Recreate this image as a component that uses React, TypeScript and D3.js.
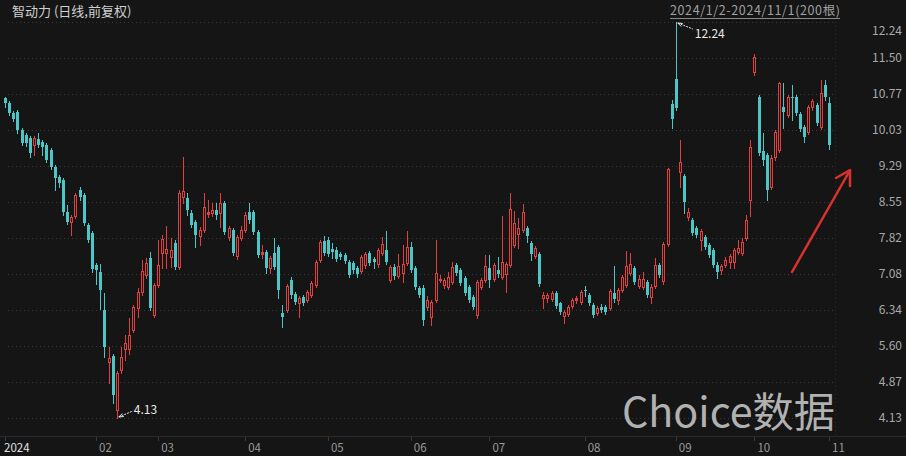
import React from "react";
import { scaleLinear, max, min } from "d3";

// daily OHLC, 2024/1/2 - 2024/11/1 (200 bars)
const opens = [
  10.68, 10.58, 10.38, 10.40, 10.03, 9.92, 9.86, 9.72, 9.84, 9.78, 9.72, 9.62, 9.27, 9.06, 9.00, 8.35, 8.14, 8.27, 8.80, 8.70, 8.08, 7.92,
  7.26, 7.12, 6.34, 5.28, 5.40, 4.29, 5.11, 5.54, 5.54, 5.93, 6.38, 6.71, 7.06, 7.41, 6.24,
  6.85, 7.51, 7.51, 7.43, 7.71, 7.22, 8.66, 8.63, 8.33, 8.14, 7.86, 7.98, 8.31, 8.33, 8.39, 8.33, 8.53, 7.84, 7.98, 7.45, 7.82,
  7.98, 8.35, 8.35, 7.94, 7.49, 7.53, 7.20, 7.51, 7.63, 6.28, 6.34, 6.96, 6.67, 6.48, 6.61, 6.55, 6.65, 6.85, 7.37, 7.75,
  7.77, 7.59, 7.57, 7.49, 7.47, 7.32, 7.30, 7.20, 7.14, 7.26, 7.51, 7.39, 7.28, 7.51, 7.57, 6.96, 7.22, 7.04, 7.10, 7.30,
  7.63, 7.20, 6.79, 6.79, 6.40, 6.20, 6.55, 6.96, 6.85, 6.81, 6.91, 7.26, 7.16, 7.00, 6.81, 6.61, 6.24, 6.81, 6.96,
  7.20, 6.98, 7.16, 7.02, 7.08, 7.26, 7.67, 7.90, 7.98, 8.02, 7.71, 7.45, 7.49, 6.59, 6.59, 6.57, 6.69, 6.48, 6.22, 6.26, 6.42, 6.55, 6.51,
  6.75, 6.65, 6.44, 6.28, 6.40, 6.40, 6.38, 6.69, 6.55, 6.75, 6.85, 7.10, 7.20, 6.83, 6.81, 6.91, 6.61, 6.83, 7.26, 6.94, 7.69, 10.56,
  11.07, 9.17, 9.09, 8.25, 8.18, 8.02, 7.77, 7.84, 7.67, 7.57, 7.26, 7.16, 7.26, 7.32, 7.32, 7.53, 7.51, 7.82, 8.59,
  11.21, 10.70, 9.60, 9.51, 8.86, 9.47, 9.62, 10.50, 10.33, 10.70, 10.70, 10.35, 10.09, 9.99, 10.50, 10.54, 10.09, 10.95,
  10.58,
];
const highs = [
  10.70, 10.62, 10.42, 10.44, 10.07, 9.97, 9.90, 9.90, 9.97, 9.82, 9.76, 9.66, 9.31, 9.11, 9.04, 8.49, 8.29, 8.74, 8.86, 8.74, 8.12, 7.96,
  7.30, 7.28, 6.69, 5.58, 5.45, 5.09, 5.58, 5.83, 6.18, 6.44, 6.79, 7.37, 7.41, 7.53, 6.89,
  7.77, 7.88, 8.06, 7.82, 7.77, 8.80, 9.47, 8.74, 8.39, 8.18, 8.04, 8.74, 8.59, 8.53, 8.53, 8.74, 8.57, 8.06, 8.02, 7.88, 8.06,
  8.35, 8.53, 8.39, 7.98, 7.67, 7.57, 7.45, 7.82, 7.67, 6.44, 6.87, 7.02, 6.71, 6.63, 6.65, 6.75, 6.94, 7.37, 7.77, 7.86,
  7.84, 7.71, 7.63, 7.53, 7.51, 7.37, 7.34, 7.24, 7.47, 7.53, 7.55, 7.43, 7.61, 7.84, 7.96, 7.26, 7.28, 7.49, 7.67, 7.96,
  7.73, 7.24, 6.83, 6.85, 6.63, 6.55, 7.77, 7.06, 7.00, 7.12, 7.32, 7.30, 7.20, 7.04, 6.85, 6.65, 6.96, 7.00, 7.47,
  7.47, 7.30, 7.43, 8.27, 7.32, 8.74, 8.37, 8.22, 8.51, 8.06, 7.75, 7.65, 7.53, 6.71, 6.69, 6.73, 6.73, 6.51, 6.34, 6.44, 6.59, 6.63, 6.75,
  6.83, 6.69, 6.48, 6.42, 6.46, 6.44, 6.77, 7.24, 6.79, 7.06, 7.55, 7.51, 7.24, 7.06, 7.12, 6.96, 6.87, 7.41, 7.30, 7.73, 9.25, 10.64,
  12.24, 9.82, 9.13, 8.43, 8.22, 8.06, 8.00, 7.88, 7.71, 7.61, 7.32, 7.28, 7.43, 7.49, 7.61, 7.77, 7.82, 8.29, 9.82,
  11.58, 10.74, 9.97, 9.56, 9.51, 10.03, 11.01, 10.99, 10.74, 10.95, 10.74, 10.40, 10.13, 10.54, 10.66, 10.58, 11.05, 11.05,
  10.70,
];
const lows = [
  10.50, 10.33, 10.21, 9.97, 9.72, 9.70, 9.47, 9.51, 9.68, 9.51, 9.37, 9.23, 8.80, 8.86, 8.29, 8.10, 7.88, 8.22, 8.59, 8.08, 7.73, 7.12,
  6.87, 6.36, 5.38, 4.85, 4.44, 4.13, 5.05, 5.32, 5.45, 5.89, 6.20, 6.65, 7.00, 6.34, 6.20,
  6.81, 7.20, 7.20, 7.22, 7.18, 7.18, 8.53, 8.29, 8.04, 7.63, 7.67, 7.94, 8.25, 8.27, 8.20, 8.04, 7.90, 7.77, 7.47, 7.39, 7.77,
  7.94, 8.12, 7.90, 7.43, 7.41, 7.10, 7.10, 7.18, 6.59, 5.99, 6.30, 6.59, 6.46, 6.20, 6.44, 6.51, 6.61, 6.81, 7.32, 7.47,
  7.45, 7.41, 7.34, 7.39, 7.30, 7.02, 7.10, 7.02, 7.10, 7.20, 7.26, 7.20, 7.22, 7.47, 7.28, 6.91, 6.98, 7.00, 6.91, 7.26,
  7.12, 6.77, 6.61, 6.03, 6.34, 6.03, 6.51, 6.91, 6.79, 6.77, 6.87, 7.06, 6.85, 6.65, 6.51, 6.36, 6.18, 6.77, 6.91,
  6.81, 6.94, 7.02, 6.98, 6.71, 7.22, 7.63, 7.61, 7.94, 7.73, 7.37, 7.41, 6.83, 6.38, 6.51, 6.53, 6.38, 6.26, 6.08, 6.22, 6.38, 6.48, 6.46,
  6.63, 6.44, 6.20, 6.24, 6.30, 6.26, 6.34, 6.51, 6.46, 6.71, 6.81, 7.06, 6.87, 6.79, 6.77, 6.61, 6.48, 6.79, 7.02, 6.87, 7.65, 10.07,
  10.44, 8.86, 8.33, 8.18, 7.88, 7.84, 7.57, 7.59, 7.43, 7.22, 7.00, 7.08, 7.22, 7.20, 7.20, 7.49, 7.47, 7.77, 8.27,
  11.15, 9.51, 9.31, 8.59, 8.82, 9.41, 9.58, 10.07, 10.29, 10.23, 10.33, 10.01, 9.78, 9.95, 10.44, 10.13, 10.05, 10.64,
  9.64,
];
const closes = [
  10.58, 10.38, 10.25, 10.03, 9.76, 9.76, 9.56, 9.86, 9.72, 9.68, 9.41, 9.27, 9.04, 8.94, 8.35, 8.14, 8.25, 8.70, 8.66, 8.12, 7.77, 7.18,
  7.16, 6.75, 5.58, 5.36, 4.60, 5.05, 5.38, 5.67, 5.83, 6.40, 6.71, 7.14, 7.30, 6.38, 6.85,
  7.26, 7.79, 7.59, 7.57, 7.22, 8.74, 8.78, 8.39, 8.08, 7.88, 7.98, 8.45, 8.35, 8.39, 8.29, 8.53, 7.94, 8.02, 7.51, 7.84, 7.98,
  8.29, 8.18, 7.94, 7.47, 7.53, 7.20, 7.41, 7.22, 6.75, 6.20, 6.83, 6.65, 6.51, 6.59, 6.48, 6.71, 6.89, 7.32, 7.73, 7.51,
  7.49, 7.53, 7.39, 7.43, 7.34, 7.06, 7.16, 7.08, 7.43, 7.49, 7.30, 7.32, 7.57, 7.69, 7.32, 7.22, 7.04, 7.24, 7.28, 7.63,
  7.16, 6.81, 6.65, 6.14, 6.55, 6.51, 7.10, 6.98, 6.96, 7.02, 7.22, 7.10, 6.89, 6.69, 6.55, 6.40, 6.91, 6.96, 7.24,
  6.96, 7.26, 7.08, 7.32, 7.28, 8.41, 8.12, 8.02, 8.35, 7.86, 7.49, 7.61, 6.87, 6.65, 6.65, 6.69, 6.42, 6.30, 6.30, 6.40, 6.55, 6.59, 6.71,
  6.73, 6.48, 6.24, 6.38, 6.34, 6.30, 6.73, 6.57, 6.75, 7.02, 7.24, 7.28, 6.91, 6.98, 6.98, 6.65, 6.81, 7.26, 7.06, 7.69, 9.23, 10.25,
  10.48, 9.37, 8.55, 8.35, 7.92, 7.88, 7.96, 7.63, 7.47, 7.26, 7.12, 7.24, 7.37, 7.45, 7.57, 7.61, 7.73, 8.18, 9.68,
  11.52, 9.56, 9.41, 8.80, 9.45, 9.99, 10.99, 10.40, 10.70, 10.68, 10.38, 10.05, 9.88, 10.50, 10.62, 10.17, 10.78, 10.70,
  9.72,
];

const yTickLabels = ["4.13", "4.87", "5.60", "6.34", "7.08", "7.82", "8.55", "9.29", "10.03", "10.77", "11.50", "12.24"];
const monthLabels = ["2024", "02", "03", "04", "05", "06", "07", "08", "09", "10", "11"];
const monthStartIdx = [0, 22, 37, 58, 78, 98, 117, 140, 162, 181, 199];

const BG = "#151515";
const UP = "#e0403f";
const DOWN = "#4fc6c6";
const FONT = "'Noto Sans CJK SC', 'Noto Sans', sans-serif";

const App: React.FC = () => {
  const width = 906;
  const height = 456;
  const n = closes.length;

  const hi = max(highs) as number;
  const lo = min(lows) as number;

  const xScale = scaleLinear().domain([0, n - 1]).range([5, 829]);
  const yScale = scaleLinear().domain([lo, hi]).range([418, 22]);

  const hiIdx = highs.indexOf(hi);
  const loIdx = lows.indexOf(lo);

  const candles = closes.map((c, i) => {
    const o = opens[i];
    const cx = Math.round(xScale(i));
    const top = Math.round(yScale(Math.max(o, c)));
    const bot = Math.round(yScale(Math.min(o, c)));
    const up = c >= o;
    const wick = (
      <line
        x1={cx + 0.5}
        x2={cx + 0.5}
        y1={Math.round(yScale(highs[i]))}
        y2={Math.round(yScale(lows[i])) + 1}
        stroke={up ? UP : DOWN}
        strokeWidth={1}
      />
    );
    let body;
    if (up) {
      if (bot - top <= 2) {
        body = <rect x={cx - 1} y={top} width={3} height={Math.max(bot - top, 1) + 1} fill={UP} />;
      } else {
        body = (
          <rect x={cx - 0.5} y={top + 0.5} width={2} height={bot - top} fill={BG} stroke={UP} strokeWidth={1} />
        );
      }
    } else {
      body = <rect x={cx - 1} y={top} width={3} height={Math.max(bot - top, 1)} fill={DOWN} />;
    }
    return (
      <g key={`c${i}`}>
        {wick}
        {body}
      </g>
    );
  });

  const grid = yTickLabels.map((t) => {
    const y = Math.round(yScale(+t)) + 0.5;
    return <line key={`g${t}`} x1={8} x2={835} y1={y} y2={y} stroke="#3a3a3a" strokeDasharray="1 3" />;
  });

  const yAxis = yTickLabels.map((t, i) => {
    let y = yScale(+t) + 4;
    if (i === yTickLabels.length - 1) y += 9;
    return (
      <text key={`y${t}`} x={902} y={y} textAnchor="end" fontSize={12} fill="#a8a8a8" fontFamily={FONT}>
        {t}
      </text>
    );
  });

  const xAxis = monthLabels.map((m, i) => {
    const x = xScale(monthStartIdx[i]);
    return (
      <g key={`m${m}`}>
        <line x1={Math.round(x) + 0.5} x2={Math.round(x) + 0.5} y1={437} y2={441} stroke="#3a3a3a" />
        <text
          x={i === 0 ? 4 : x + 3}
          y={452}
          fontSize={11.5}
          fill={i === 0 ? "#e0e0e0" : "#9a9a9a"}
          fontFamily={FONT}
        >
          {m}
        </text>
      </g>
    );
  });

  const hx = xScale(hiIdx) + 2;
  const hy = yScale(hi);
  const lx = xScale(loIdx) + 2;
  const ly = yScale(lo);

  return (
    <div style={{ position: "absolute", left: 0, top: 0, width, height, background: BG }}>
      <svg width={width} height={height} style={{ display: "block" }}>
        <rect x={0} y={0} width={width} height={height} fill={BG} />
        {grid}
        <line x1={835.5} x2={835.5} y1={22} y2={437} stroke="#2c2c2c" strokeDasharray="1 3" />
        <line x1={0} x2={906} y1={436.5} y2={436.5} stroke="#2a2a2a" />

        <text x={12} y={16} fontSize={13} fill="#d0d0d0" fontFamily={FONT}>
          智动力 (日线,前复权)
        </text>
        <text x={670} y={15} fontSize={12.5} fill="#a0a0a0" fontFamily={FONT} textLength={170} lengthAdjust="spacing">
          2024/1/2-2024/11/1(200根)
        </text>
        <line x1={670} x2={840} y1={18.5} y2={18.5} stroke="#8a8a8a" />

        {candles}

        {/* high / low markers */}
        <line x1={hx} y1={hy + 1} x2={hx + 15} y2={hy + 7} stroke="#e8e8e8" strokeDasharray="2 1" />
        <path d={`M${hx},${hy + 1} l5,0.5 M${hx},${hy + 1} l3.5,3.5`} stroke="#e8e8e8" fill="none" />
        <text x={hx + 17} y={hy + 16} fontSize={12} fill="#e8e8e8" fontFamily={FONT}>
          {hi.toFixed(2)}
        </text>
        <line x1={lx} y1={ly - 1} x2={lx + 14} y2={ly - 7} stroke="#e8e8e8" strokeDasharray="2 1" />
        <path d={`M${lx},${ly - 1} l5,-0.5 M${lx},${ly - 1} l3.5,-3.5`} stroke="#e8e8e8" fill="none" />
        <text x={lx + 15} y={ly - 4} fontSize={12} fill="#e8e8e8" fontFamily={FONT}>
          {lo.toFixed(2)}
        </text>

        {/* red trend arrow */}
        <line x1={792} y1={272} x2={849} y2={172} stroke="#d9322e" strokeWidth={2.5} strokeLinecap="round" />
        <polyline
          points="836,178 850,170 850,186"
          fill="none"
          stroke="#d9322e"
          strokeWidth={2.5}
          strokeLinecap="round"
          strokeLinejoin="round"
        />

        {yAxis}
        {xAxis}

        <text x={622} y={427} fontSize={41} fill="#cfcfcf" fillOpacity={0.85} fontFamily={FONT} textLength={213} lengthAdjust="spacingAndGlyphs">
          Choice数据
        </text>
      </svg>
    </div>
  );
};

export default App;
